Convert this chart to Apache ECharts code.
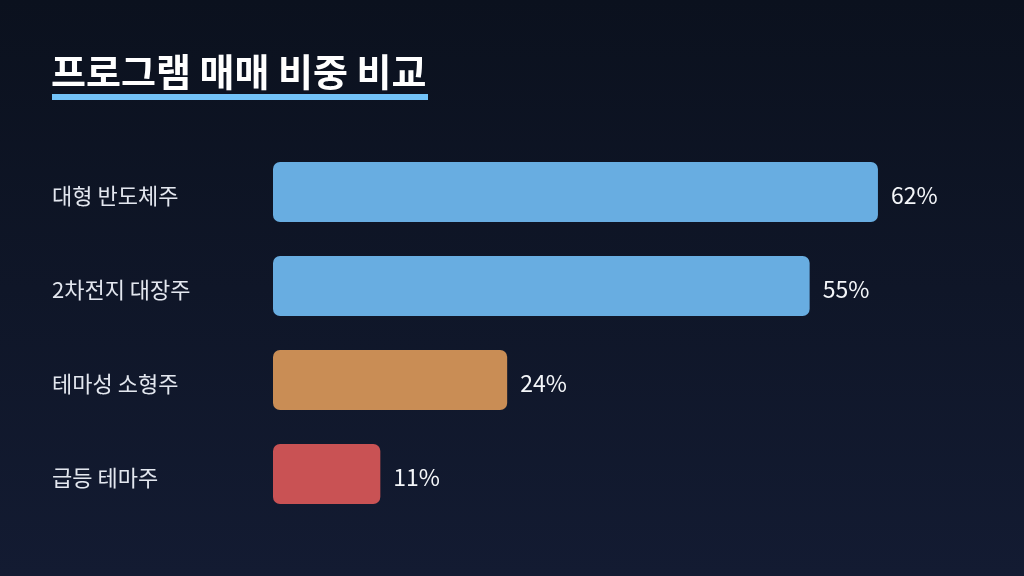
<!DOCTYPE html>
<html><head><meta charset="utf-8">
<script src="https://cdn.jsdelivr.net/npm/echarts@6/dist/echarts.min.js"></script>
<style>html,body{margin:0;padding:0;background:#0d1322;}#c{width:1024px;height:576px;}</style>
</head><body><div id="c"></div>
<script>
const titleText = '프로그램 매매 비중 비교';
const categories = ['대형 반도체주', '2차전지 대장주', '테마성 소형주', '급등 테마주'];
const values = [62, 55, 24, 11];
const barColors = ['#68ade1', '#68ade1', '#c98d55', '#c95254'];

const chart = echarts.init(document.getElementById('c'));
chart.setOption({
  animation: false,
  backgroundColor: {
    type: 'linear', x: 0, y: 0, x2: 0, y2: 1,
    colorStops: [{offset: 0, color: '#0b111e'}, {offset: 1, color: '#131b32'}]
  },
  title: {
    text: titleText, left: 46, top: 48,
    textStyle: {color: '#ffffff', fontSize: 38, fontWeight: 'bold', fontFamily: 'Noto Sans CJK KR'}
  },
  graphic: [{
    type: 'rect', shape: {x: 52, y: 94, width: 376, height: 6},
    style: {fill: '#72c2f8'}
  }],
  grid: {left: 273, right: 68, top: 145, bottom: 55},
  xAxis: {type: 'value', min: 0, max: 70, show: false},
  yAxis: {
    type: 'category', data: categories, inverse: true,
    axisLine: {show: false}, axisTick: {show: false}, splitLine: {show: false},
    axisLabel: {
      align: 'left', margin: 221,
      formatter: v => '{a|' + v + '}',
      rich: {a: {color: '#e3e7ef', fontSize: 22, fontFamily: 'Noto Sans CJK KR', padding: [7, 0, 0, 0]}}
    }
  },
  series: [{
    type: 'bar', barWidth: 60,
    data: values.map((v, i) => ({value: v, itemStyle: {color: barColors[i]}})),
    itemStyle: {borderRadius: 7},
    label: {
      show: true, position: 'right', distance: 13, formatter: '{c}%', offset: [0, 3],
      color: '#f4f6f9', fontSize: 23, fontFamily: 'Noto Sans CJK KR'
    }
  }]
});
</script></body></html>
